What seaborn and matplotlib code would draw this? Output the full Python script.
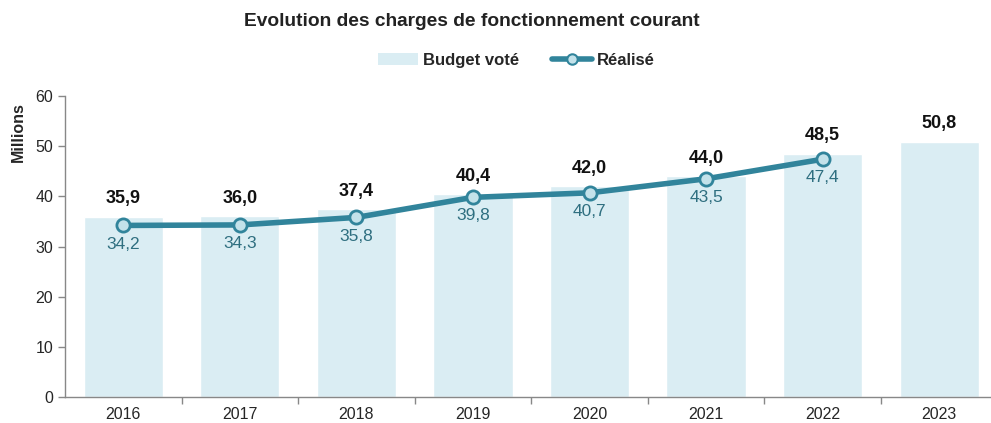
import numpy as np
import matplotlib
matplotlib.use('Agg')
import matplotlib.pyplot as plt
import seaborn as sns
from matplotlib.patches import Patch
from matplotlib.lines import Line2D

# 데이터
annees = ['2016', '2017', '2018', '2019', '2020', '2021', '2022', '2023']
budget_vote = [35.9, 36.0, 37.4, 40.4, 42.0, 44.0, 48.5, 50.8]
realise = [34.2, 34.3, 35.8, 39.8, 40.7, 43.5, 47.4]

sns.set_style("white")
plt.rcParams['font.family'] = ['Liberation Sans', 'DejaVu Sans']

couleur_barre = '#daedf3'
couleur_ligne = '#31849b'
couleur_marqueur = '#c3e2ea'

fig = plt.figure(figsize=(9.91, 4.23), dpi=100)
ax = fig.add_axes([0.0656, 0.0615, 0.941, 0.7115])

sns.barplot(x=annees, y=budget_vote, order=annees, color=couleur_barre,
            width=0.68, saturation=1, ax=ax)

ax.plot(np.arange(len(realise)), realise, color=couleur_ligne, linewidth=4,
        marker='o', markersize=9.5, markerfacecolor=couleur_marqueur,
        markeredgecolor=couleur_ligne, markeredgewidth=2, zorder=3)

# étiquettes des valeurs
for i, v in enumerate(budget_vote):
    ax.annotate(f"{v:.1f}".replace('.', ','), (i, v), xytext=(0, 7),
                textcoords='offset points', ha='center', va='bottom',
                fontsize=13, fontweight='bold', color='#111111')
for i, v in enumerate(realise):
    ax.annotate(f"{v:.1f}".replace('.', ','), (i, v), xytext=(0, -8),
                textcoords='offset points', ha='center', va='top',
                fontsize=12.5, color='#2f6f80')

ax.set_xlim(-0.5, len(annees) - 0.5)
ax.set_ylim(0, 60)
ax.set_yticks(range(0, 61, 10))
ax.set_xticks(range(len(annees)))
ax.set_xticklabels(annees)
ax.set_xticks(np.arange(0.5, len(annees) - 0.5, 1), minor=True)
ax.tick_params(axis='x', which='major', length=0, labelsize=11.5, pad=7)
ax.tick_params(axis='x', which='minor', length=5, color='#888888', width=1, direction='out', bottom=True)
ax.tick_params(axis='y', length=5, color='#888888', width=1, direction='out', left=True, labelsize=11.5)

for s in ['top', 'right']:
    ax.spines[s].set_visible(False)
for s in ['left', 'bottom']:
    ax.spines[s].set_color('#888888')
    ax.spines[s].set_linewidth(1)

ax.set_ylabel('')
fig.text(0.019, 0.688, 'Millions', rotation=90, ha='center', va='center',
         fontsize=11.5, fontweight='bold')

fig.suptitle('Evolution des charges de fonctionnement courant', x=0.476, y=0.948,
             va='center', fontsize=13.8, fontweight='bold', color='#222222')

poignees = [Patch(facecolor=couleur_barre, edgecolor='none'),
            Line2D([0], [0], color=couleur_ligne, linewidth=4, marker='o',
                   markersize=7.5, markerfacecolor=couleur_marqueur,
                   markeredgecolor=couleur_ligne, markeredgewidth=1.5)]
fig.legend(poignees, ['Budget voté', 'Réalisé'], loc='center', ncol=2,
           bbox_to_anchor=(0.521, 0.858), frameon=False,
           prop={'weight': 'bold', 'size': 12}, handlelength=2.4,
           handletextpad=0.3, columnspacing=2.0)

fig.savefig('out.png', dpi=100)
